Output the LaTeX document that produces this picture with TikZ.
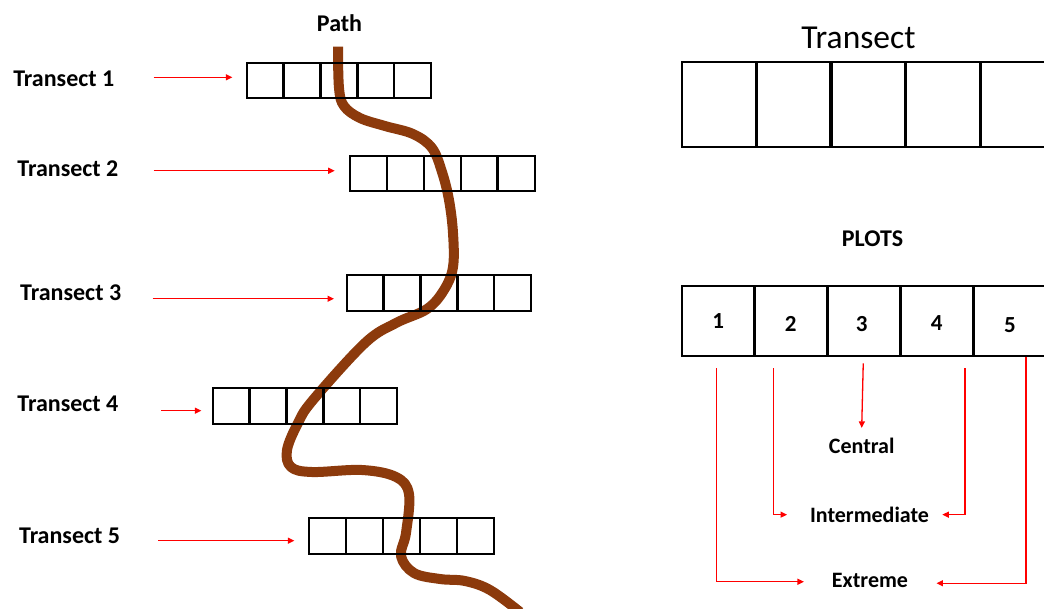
\documentclass[tikz,border=0pt]{standalone}
\usepackage{fontspec}
\setmainfont{Carlito}
\usetikzlibrary{arrows.meta,calc}
\definecolor{pathbrown}{RGB}{140,58,12}
\definecolor{arrred}{RGB}{255,0,0}
\begin{document}
\begin{tikzpicture}[x=1pt,y=-1pt,
  lbl/.style={font=\fontsize{22}{26}\selectfont\bfseries, inner sep=0pt, outer sep=0pt},
  biglbl/.style={font=\fontsize{24}{28}\selectfont\bfseries, inner sep=0pt, outer sep=0pt},
  numlbl/.style={font=\fontsize{23}{27}\selectfont\bfseries, inner sep=0pt, outer sep=0pt, anchor=base},
  tlbl/.style={font=\fontsize{24}{28}\selectfont\bfseries, inner sep=0pt, anchor=base west},
  frame/.style={draw=black, line width=2pt, inner sep=0pt, outer sep=0pt},
  cellbox/.style={inner sep=0pt, outer sep=0pt, anchor=north west},
  divider/.style={draw=black, line width=2.6pt},
  rarr/.style={draw=arrred, line width=1.3pt, -{Triangle[length=6.5pt,width=6pt]}},
  road/.style={draw=pathbrown, line width=10pt, line join=round},
]
\useasboundingbox (0,0) rectangle (1044,608);
\clip (0,0) rectangle (1044,608);

% the path
\draw[road] plot[smooth, tension=0.6] coordinates {
  (338,46.7) (339,88) (344,106) (360,118) (385,126) (413,134) (432,148) (442,172)
  (449,200) (453,233) (453,267) (444,290) (427,309) (396,323) (365,343)
  (313,400) (298,423) (287,450) (291,467) (312,472) (362,470) (396,477)
  (409,494) (406,533) (401,556) (414,573) (440,579) (465,581) (490,590) (520,612)};

% left transects
\foreach \n/\lx/\ty in {t1/246.7/62.7, t2/350/155.7, t3/346.7/275, t4/212.7/388.3, t5/309.3/518.3} {
  \node[frame, minimum width=184.5pt, minimum height=35.5pt, anchor=north west] (\n) at (\lx,\ty) {};
  \foreach \j in {1,2,3,4}
    \draw[divider, line width=2.3pt] ($(\n.north west)!\j/5!(\n.north east)$) -- ($(\n.south west)!\j/5!(\n.south east)$);
}

% left labels
\node[tlbl] (l1) at (13.1,86) {Transect 1};
\node[tlbl] (l2) at (17.2,176.7) {Transect 2};
\node[tlbl] (l3) at (20,300) {Transect 3};
\node[tlbl] (l4) at (17.2,411.7) {Transect 4};
\node[tlbl] (l5) at (18.9,543.3) {Transect 5};
\node[biglbl, anchor=base] (pathlbl) at (339.5,31.7) {Path};

% left arrows
\coordinate (a1) at (153.6,77.3);
\coordinate (a2) at (153.6,170.7);
\coordinate (a3) at (152.5,298.7);
\coordinate (a4) at (161.2,410.7);
\coordinate (a5) at (158.4,540.7);
\draw[rarr, shorten >=14.3pt] (a1) -- (a1 -| t1.west);
\draw[rarr, shorten >=15.3pt] (a2) -- (a2 -| t2.west);
\draw[rarr, shorten >=12.7pt] (a3) -- (a3 -| t3.west);
\draw[rarr, shorten >=11.3pt] (a4) -- (a4 -| t4.west);
\draw[rarr, shorten >=14.9pt] (a5) -- (a5 -| t5.west);

% right: transect
\node[font=\fontsize{33.5}{38}\selectfont, inner sep=0pt, anchor=base] (title) at (858.5,48) {Transect};
\node[frame, minimum width=373pt, minimum height=85pt, anchor=north west] (tr) at (681.7,62.3) {};
\foreach \j in {1,2,3,4}
  \draw[divider, line width=3.2pt] ($(tr.north west)!\j/5!(tr.north east)$) -- ($(tr.south west)!\j/5!(tr.south east)$);

% right: plots
\node[biglbl, anchor=base] (plots) at (872.5,246.7) {PLOTS};
\node[frame, minimum width=364.5pt, minimum height=70pt, anchor=north west] (pl) at (681.7,286) {};
\foreach \j in {1,...,5}
  \node[cellbox, minimum width=72.9pt, minimum height=70pt] (p\j) at ({681.7+72.9*(\j-1)},286) {};
\foreach \j in {1,2,3,4}
  \draw[divider, line width=3.2pt] (p\j.north east) -- (p\j.south east);
\node[numlbl] (n1) at (718.3,328.3) {1};
\node[numlbl] (n2) at (790.7,331.7) {2};
\node[numlbl] (n3) at (861.7,331) {3};
\node[numlbl] (n4) at (936.7,330) {4};
\node[numlbl] (n5) at (1010,332.3) {5};

% categories
\node[lbl, anchor=base] (cen) at (861.7,453.3) {Central};
\node[lbl, anchor=base] (int) at (869.5,522.3) {Intermediate};
\node[lbl, anchor=base] (ext) at (870,587.3) {Extreme};

\draw[rarr] ([xshift=-1.5pt,yshift=-12pt]p1.south) |- ([xshift=-28pt,yshift=-1.5pt]ext.west);
\draw[rarr] ([xshift=-17.8pt,yshift=-12pt]p2.south) |- ([xshift=-23pt]int.west);
\draw[rarr] ([xshift=-0.7pt,yshift=-7.3pt]p3.south) -- ([yshift=10pt]cen.north);
\draw[rarr] ([xshift=28pt,yshift=-12pt]p4.south) |- ([xshift=13.3pt]int.east);
\draw[rarr] ([xshift=16.1pt,yshift=-0.5pt]p5.south) |- ([xshift=28.4pt,yshift=-3pt]ext.east);
\end{tikzpicture}
\end{document}
